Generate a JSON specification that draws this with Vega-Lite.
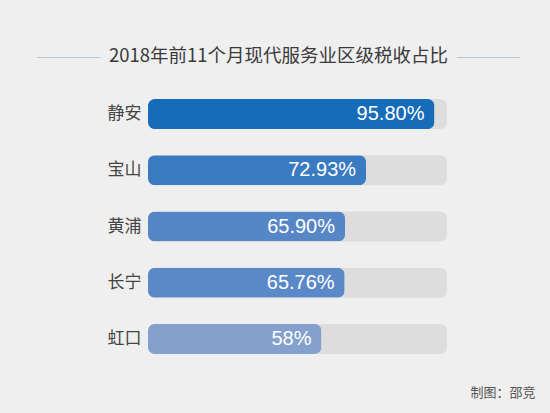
{
  "$schema": "https://vega.github.io/schema/vega-lite/v6.json",
  "width": 299,
  "height": 281,
  "autosize": {"type": "none"},
  "padding": {"left": 148, "top": 86, "right": 103, "bottom": 46},
  "background": "#efefef",
  "view": {"stroke": null},
  "title": {
    "text": "\u2500\u2500\u2500\u3000\u3000\u3000\u3000\u3000\u3000\u3000\u3000\u3000\u3000\u3000\u3000\u3000\u3000\u3000\u3000\u3000\u2500\u2500\u2500",
    "subtitle": "2018年前11个月现代服务业区级税收占比",
    "frame": "group",
    "anchor": "middle",
    "dx": -19,
    "offset": 16,
    "font": "Noto Sans CJK SC",
    "fontSize": 21,
    "fontWeight": "normal",
    "color": "#a3bdd4",
    "subtitleFont": "Noto Sans CJK SC",
    "subtitleFontSize": 18.5,
    "subtitleColor": "#3a3a3a",
    "subtitlePadding": -22
  },
  "data": {
    "values": [
      {"district": "静安", "value": 95.8, "label": "95.80%"},
      {"district": "宝山", "value": 72.93, "label": "72.93%"},
      {"district": "黄浦", "value": 65.9, "label": "65.90%"},
      {"district": "长宁", "value": 65.76, "label": "65.76%"},
      {"district": "虹口", "value": 58, "label": "58%"}
    ]
  },
  "encoding": {
    "y": {
      "field": "district",
      "type": "nominal",
      "sort": null,
      "title": null,
      "scale": {"paddingInner": 0.467, "paddingOuter": 0.233},
      "axis": {
        "domain": false,
        "ticks": false,
        "grid": false,
        "labelFont": "Noto Sans CJK SC",
        "labelFontSize": 17,
        "labelColor": "#444444",
        "labelPadding": 7
      }
    }
  },
  "layer": [
    {
      "mark": {"type": "bar", "color": "#dddddd", "cornerRadius": 7},
      "encoding": {
        "x": {
          "datum": 100,
          "type": "quantitative",
          "scale": {"domain": [0, 100]},
          "title": "制图：邵竞",
          "axis": {
            "labels": false,
            "ticks": false,
            "domain": false,
            "grid": false,
            "titleFont": "Noto Sans CJK SC",
            "titleFontSize": 13,
            "titleFontWeight": "normal",
            "titleColor": "#555555",
            "titleAlign": "right",
            "titleBaseline": "middle",
            "titleX": 387,
            "titleY": 25
          }
        }
      }
    },
    {
      "mark": {"type": "bar", "cornerRadius": 7},
      "encoding": {
        "x": {"field": "value", "type": "quantitative", "title": "制图：邵竞"},
        "color": {
          "field": "district",
          "type": "nominal",
          "sort": null,
          "scale": {"range": ["#176cba", "#3a7ac0", "#5686c6", "#5b89c8", "#84a0cc"]},
          "legend": null
        }
      }
    },
    {
      "mark": {
        "type": "text",
        "align": "right",
        "baseline": "middle",
        "dx": -10,
        "font": "Liberation Sans",
        "fontSize": 20,
        "color": "#ffffff"
      },
      "encoding": {
        "x": {"field": "value", "type": "quantitative", "title": "制图：邵竞"},
        "text": {"field": "label"}
      }
    }
  ]
}
